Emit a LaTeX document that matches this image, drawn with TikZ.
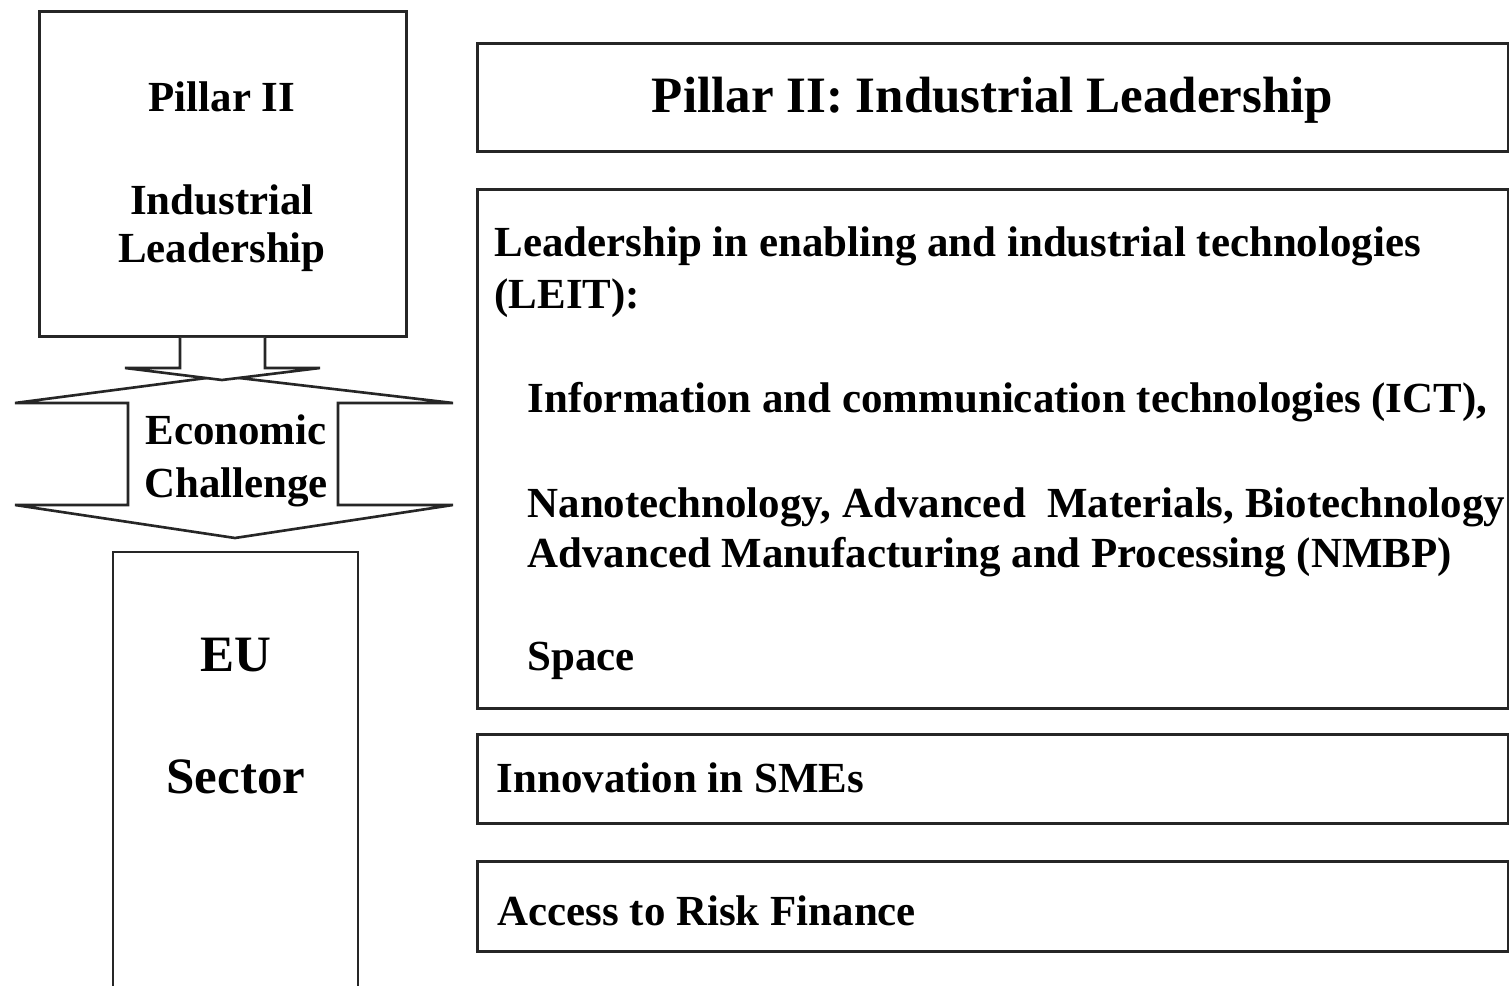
\documentclass[tikz,border=0pt]{standalone}
\usepackage{fontspec}
\setmainfont{Liberation Serif}
\begin{document}
\begin{tikzpicture}[
  x=0.01cm, y=-0.01cm,
  font=\fontsize{12.2}{14}\selectfont\bfseries,
  ln/.style      = {draw=black!85, line width=0.75pt},
  box/.style     = {ln, rectangle, inner sep=0pt, anchor=north west},
  txt/.style     = {inner sep=0pt, anchor=base west},
  ctxt/.style    = {inner sep=0pt, anchor=base},
  big/.style     = {font=\fontsize{14.5}{17}\selectfont\bfseries},
]
\useasboundingbox (0,0) rectangle (1510,986);

%%────────── LEFT COLUMN ─────────────────────────────────────
\node[box, minimum width=3.67cm, minimum height=3.25cm] (pil) at (38,10) {};
\node[ctxt] (pilA) at (222,112) {Pillar II};
\node[ctxt] (pilB) at (222,215) {Industrial};
\node[ctxt] (pilC) at (222,263) {Leadership};

% double arrow (up / down)
\draw[ln, fill=white] (15,403) -- (222,376) -- (453,403) -- (338,403)
  -- (338,505) -- (453,505) -- (235,538) -- (15,505) -- (128,505)
  -- (128,403) -- cycle;
% stem from the pillar box
\draw[ln, fill=white] (pil.south -| 180,0) -- (180,368) -- (125,368)
  -- (222,380) -- (320,368) -- (265,368) -- (pil.south -| 265,0);
\node[ctxt] (eco)  at (236,445) {Economic};
\node[ctxt] (chal) at (236,498) {Challenge};

% sector box, cut at the bottom
\coordinate (secNW) at (113,552);
\coordinate (secNE) at (358,552);
\draw[ln] (113,1000) -- (secNW) -- (secNE) -- (358,1000);
\node[ctxt, big] (eu)  at (236,672) {EU};
\node[ctxt, big] (sec) at (236,793) {Sector};

%%────────── RIGHT COLUMN ────────────────────────────────────
\node[box, minimum width=10.30cm, minimum height=1.08cm] (head) at (476,42) {};
\node[ctxt, big] (headT) at (head.center |- 0,113) {Pillar II: Industrial Leadership};

\node[box, minimum width=10.30cm, minimum height=5.19cm] (leit) at (476,188) {};
\node[txt] (leitA) at (494,257) {Leadership in enabling and industrial technologies};
\node[txt] (leitB) at (494,309) {(LEIT):};
\node[txt] (ict)   at (527,413) {Information and communication technologies (ICT),};
\node[txt] (nmbA)  at (527,518) {Nanotechnology, Advanced\ \ Materials, Biotechnology};
\node[txt] (nmbB)  at (527,568) {Advanced Manufacturing and Processing (NMBP)};
\node[txt] (spc)   at (527,670) {Space};

\node[box, minimum width=10.30cm, minimum height=0.89cm] (sme) at (476,733) {};
\node[txt] (smeT) at (496,792) {Innovation in SMEs};

\node[box, minimum width=10.30cm, minimum height=0.90cm] (risk) at (476,860) {};
\node[txt] (riskT) at (497,925) {Access to Risk Finance};

\end{tikzpicture}
\end{document}
